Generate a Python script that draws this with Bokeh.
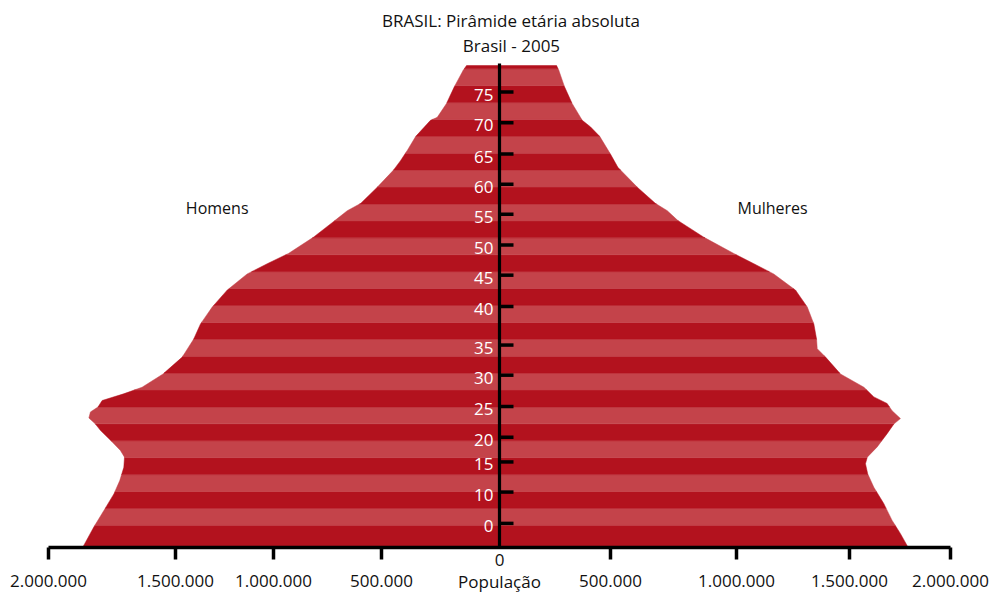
import numpy as np
from bokeh.plotting import figure
from bokeh.core.properties import value
from bokeh.embed import file_html
from bokeh.resources import INLINE

# ---------------- data ----------------
title_line1 = "BRASIL: Pirâmide etária absoluta"
title_line2 = "Brasil - 2005"
label_men = "Homens"
label_women = "Mulheres"
x_title = "População"

# outline of the pyramid: age (years) and population (thousands)
men_age = [0.0, 0.6, 3.4, 6.1, 8.9, 11.1, 13.3, 15.0, 16.1, 17.8, 19.4, 20.5, 21.5, 22.5,
           23.3, 24.4, 25.5, 26.6, 28.8, 31.6, 34.6, 37.1, 39.9, 42.7, 45.4, 47.1, 48.8,
           51.5, 54.3, 55.9, 57.1, 59.8, 62.6, 64.2, 65.9, 68.2, 70.9, 71.4, 73.7, 76.5,
           79.2, 80.0]
men_pop = [1849, 1840, 1799, 1755, 1710, 1684, 1666, 1663, 1681, 1725, 1769, 1792, 1821, 1814,
           1781, 1762, 1667, 1585, 1492, 1407, 1356, 1326, 1274, 1208, 1119, 1030, 936,
           825, 729, 675, 616, 542, 471, 439, 409, 372, 306, 276, 235, 200,
           161, 146]

women_age = [0.0, 0.3, 2.3, 4.5, 7.3, 10.0, 12.2, 13.9, 15.0, 16.7, 18.9, 20.5, 21.4, 22.7,
             23.9, 25.0, 26.6, 28.8, 31.6, 33.0, 34.6, 37.1, 39.9, 42.7, 45.4, 47.1, 48.8,
             51.5, 54.3, 55.9, 57.1, 59.8, 63.1, 65.3, 68.2, 69.8, 70.9, 73.7, 76.5, 79.2,
             80.0]
women_pop = [1810, 1808, 1778, 1741, 1704, 1660, 1633, 1623, 1631, 1675, 1719, 1749, 1778, 1741,
             1719, 1660, 1616, 1512, 1446, 1409, 1406, 1394, 1365, 1313, 1216, 1128, 1039,
             906, 790, 744, 692, 611, 525, 492, 445, 404, 367, 322, 288, 263,
             253]

# vertical (age) axis ticks as drawn in the source picture
age_tick_pos = [4.0, 9.2, 14.2, 18.3, 23.4, 28.6, 33.6, 40.0, 45.2, 50.2, 55.3, 60.3, 65.3, 70.5, 75.6]
age_tick_labels = ["0", "10", "15", "20", "25", "30", "35", "40", "45", "50", "55", "60", "65", "70", "75"]

# horizontal (population) axis ticks as drawn in the source picture
pop_tick_pos = [-2000000, -1436800, -1002200, -523300, 492200, 1051000, 1552100, 2000000]
pop_tick_labels = ["2.000.000", "1.500.000", "1.000.000", "500.000",
                   "500.000", "1.000.000", "1.500.000", "2.000.000"]
pop_axis_min, pop_axis_max = -2_000_000, 2_000_000
age_axis_top = 80.33

# ---------------- style / layout ----------------
DARK = "#b3121e"
LIGHT = "#c4434a"
INK = "#111111"
FONT = "Open Sans"
STRIPE_START = 3.685
STRIPE_STEP = 2.8066
W, H = 996, 592
PX_X = 225.5 / 1e6      # pixels per person
PX_Y = 6.025            # pixels per year of age
ORIGIN_X, ORIGIN_Y = 499, 547   # pixel position of (0, 0)

x_range = (-ORIGIN_X / PX_X, (W - ORIGIN_X) / PX_X)
y_range = (-(H - ORIGIN_Y) / PX_Y, ORIGIN_Y / PX_Y)

p = figure(width=W, height=H, x_range=x_range, y_range=y_range,
           output_backend="svg", toolbar_location=None,
           x_axis_location=None, y_axis_location=None, min_border=0)
p.outline_line_color = None
p.xgrid.visible = False
p.ygrid.visible = False
p.background_fill_color = "white"
p.border_fill_color = "white"

# ---------------- striped pyramid ----------------
men_k = np.array(men_pop, dtype=float) * 1000
women_k = np.array(women_pop, dtype=float) * 1000
top_age = max(men_age)
edges = [0.0] + list(np.arange(STRIPE_START, top_age, STRIPE_STEP)) + [top_age]

xs, ys, colors = [], [], []
for i in range(len(edges) - 1):
    a0, a1 = edges[i], edges[i + 1]
    m_in = [(a, v) for a, v in zip(men_age, men_k) if a0 < a < a1]
    w_in = [(a, v) for a, v in zip(women_age, women_k) if a0 < a < a1]
    ly = [a0] + [a for a, _ in m_in] + [a1]
    lx = [-np.interp(a0, men_age, men_k)] + [-v for _, v in m_in] + [-np.interp(a1, men_age, men_k)]
    ry = [a1] + [a for a, _ in reversed(w_in)] + [a0]
    rx = [np.interp(a1, women_age, women_k)] + [v for _, v in reversed(w_in)] + [np.interp(a0, women_age, women_k)]
    xs.append([float(v) for v in lx + rx])
    ys.append([float(v) for v in ly + ry])
    colors.append(DARK if i % 2 == 0 else LIGHT)

p.patches(xs, ys, fill_color=colors, line_color=colors, line_width=0.5)

# ---------------- central age axis ----------------
p.segment(x0=[0], y0=[0], x1=[0], y1=[age_axis_top], line_color="black", line_width=3.2)
p.ray(x=[0] * len(age_tick_pos), y=age_tick_pos, length=14, length_units="screen", angle=0,
      line_color="black", line_width=3.5)
age_label_y = [t - 2.5 / PX_Y for t in age_tick_pos]
p.text(x=[0] * len(age_tick_pos), y=age_label_y, text=age_tick_labels, x_offset=-6,
       text_align="right", text_baseline="middle", text_color="white",
       text_font=value(FONT), text_font_size="17px")

# ---------------- bottom population axis ----------------
p.segment(x0=[pop_axis_min], y0=[0], x1=[pop_axis_max], y1=[0], line_color="black", line_width=3.5)
p.ray(x=pop_tick_pos, y=[0] * len(pop_tick_pos), length=12, length_units="screen",
      angle=-np.pi / 2, line_color="black", line_width=3.5)
pop_label_y = -33.5 / PX_Y
p.text(x=pop_tick_pos, y=[pop_label_y] * len(pop_tick_pos), text=pop_tick_labels,
       text_align="center", text_baseline="middle", text_color=INK,
       text_font=value(FONT), text_font_size="17px")

# ---------------- texts ----------------
def add_text(x, y_px, text, size="16px"):
    p.text(x=[x], y=[(ORIGIN_Y - y_px) / PX_Y], text=[text], text_align="center",
           text_baseline="middle", text_color=INK,
           text_font=value(FONT), text_font_size=size)

add_text(51000, 20, title_line1, "17px")
add_text(53000, 45, title_line2, "17px")
add_text(-1252000, 207, label_men)
add_text(1211000, 207, label_women)
add_text(0, 559.5, "0", "17px")
add_text(0, 580.5, x_title, "17px")

open("out.html", "w").write(file_html(p, INLINE))
